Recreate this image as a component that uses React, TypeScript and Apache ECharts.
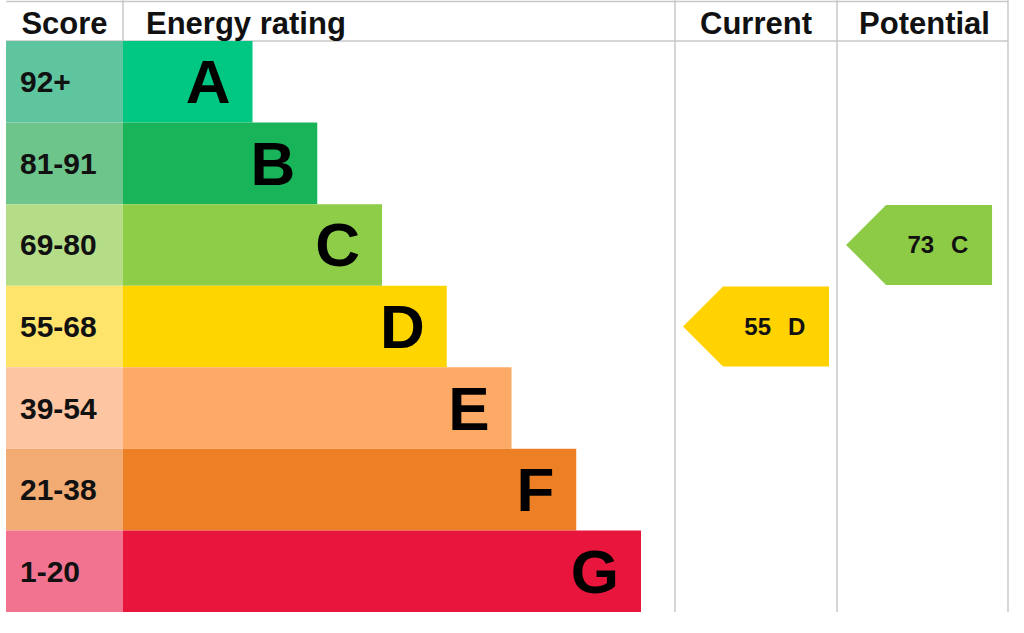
import { useEffect, useRef } from 'react';
import * as echarts from 'echarts';

// EPC bands, top (best) to bottom (worst).
const bands = ['A', 'B', 'C', 'D', 'E', 'F', 'G'];
const scoreRanges = ['92+', '81-91', '69-80', '55-68', '39-54', '21-38', '1-20'];
// Bar length of each band, in steps of the rating column.
const bandLengths = [2, 3, 4, 5, 6, 7, 8];
// Score column cells are all full width.
const scoreCells = [1, 1, 1, 1, 1, 1, 1];
const headers = ['Score', 'Energy rating', 'Current', 'Potential'];

const currentBand = 'D';
const currentScore = 55;
const potentialBand = 'C';
const potentialScore = 73;

const bandColors = ['#00c781', '#19b35a', '#8dcd47', '#ffd500', '#fcaa65', '#ed8025', '#e8163d'];
const scoreColors = ['#5fc59f', '#6dc58b', '#b5dd88', '#ffe46c', '#fdc5a1', '#f3ab74', '#f27390'];

const FONT = '"Liberation Sans", Arial, Helvetica, sans-serif';
const LINE = '#c8c8c8';

// Table layout (px).
const TOP = 41;
const BOTTOM = 612;
const X_SCORE = 6;
const X_BARS = 123;
const X_CURRENT = 675;
const X_POTENTIAL = 837;
const X_RIGHT = 1008;
const BAR_SPAN = 518;

const arrowItem = (color: string) => (params: any, api: any) => {
  const [cx, cy] = api.coord([api.value(0), api.value(1)]);
  const h = api.size([0, 1])[1] - 1.5;
  const w = 146;
  const tip = 40;
  const left = cx - w / 2;
  const right = cx + w / 2;
  const mid = (left + tip + right) / 2;
  const font = `bold 24px ${FONT}`;
  return {
    type: 'group',
    children: [
      {
        type: 'polygon',
        shape: {
          points: [
            [left, cy],
            [left + tip, cy - h / 2],
            [right, cy - h / 2],
            [right, cy + h / 2],
            [left + tip, cy + h / 2],
          ],
        },
        style: { fill: color },
      },
      {
        type: 'text',
        x: mid - 5,
        y: cy,
        style: { text: String(api.value(2)), font, fill: '#111', align: 'right', verticalAlign: 'middle' },
      },
      {
        type: 'text',
        x: mid + 12,
        y: cy,
        style: { text: bands[api.value(1)], font, fill: '#111', align: 'left', verticalAlign: 'middle' },
      },
    ],
  };
};

export default function App() {
  const ref = useRef<HTMLDivElement | null>(null);

  useEffect(() => {
    if (!ref.current) return;
    const chart = echarts.init(ref.current, undefined, { renderer: 'svg' });

    const vline = (x: number, y2: number) => ({
      type: 'line',
      shape: { x1: x, y1: 0, x2: x, y2 },
      style: { stroke: LINE, lineWidth: 1.5 },
    });
    const hline = (y: number) => ({
      type: 'line',
      shape: { x1: X_SCORE, y1: y, x2: X_RIGHT, y2: y },
      style: { stroke: LINE, lineWidth: 1.5 },
    });
    const headerX = [
      (X_SCORE + X_BARS) / 2,
      X_BARS + 23,
      (X_CURRENT + X_POTENTIAL) / 2,
      (X_POTENTIAL + X_RIGHT) / 2 + 2,
    ];
    const headerText = headers.map((t, i) => ({
      type: 'text',
      x: headerX[i],
      y: 23,
      style: {
        text: t,
        font: `bold 31px ${FONT}`,
        fill: '#111',
        align: i === 1 ? 'left' : 'center',
        verticalAlign: 'middle',
        textAlign: i === 1 ? 'left' : 'center',
        textVerticalAlign: 'middle',
      },
    }));

    chart.setOption({
      animation: false,
      backgroundColor: '#fff',
      grid: [
        { left: X_SCORE, top: TOP, width: X_BARS - X_SCORE, height: BOTTOM - TOP },
        { left: X_BARS, top: TOP, width: BAR_SPAN, height: BOTTOM - TOP },
        { left: X_CURRENT, top: TOP, width: X_POTENTIAL - X_CURRENT, height: BOTTOM - TOP },
        { left: X_POTENTIAL, top: TOP, width: X_RIGHT - X_POTENTIAL, height: BOTTOM - TOP },
      ],
      xAxis: [0, 1, 2, 3].map((i) => ({
        gridIndex: i,
        type: 'value',
        min: 0,
        max: i === 1 ? 8 : 1,
        show: false,
      })),
      yAxis: [0, 1, 2, 3].map((i) => ({
        gridIndex: i,
        type: 'category',
        data: bands,
        inverse: true,
        show: false,
      })),
      graphic: {
        elements: [
          hline(1.5),
          hline(TOP),
          vline(X_BARS, TOP),
          vline(X_CURRENT, BOTTOM),
          vline(X_POTENTIAL, BOTTOM),
          vline(X_RIGHT, BOTTOM),
          ...headerText,
        ],
      },
      series: [
        {
          type: 'bar',
          xAxisIndex: 0,
          yAxisIndex: 0,
          barWidth: '100%',
          silent: true,
          data: scoreCells.map((v, i) => ({ value: v, itemStyle: { color: scoreColors[i] } })),
          label: {
            show: true,
            position: 'insideLeft',
            distance: 14,
            formatter: (p: any) => scoreRanges[p.dataIndex],
            fontFamily: FONT,
            fontSize: 30,
            fontWeight: 'bold',
            color: '#111',
          },
        },
        {
          type: 'bar',
          xAxisIndex: 1,
          yAxisIndex: 1,
          barWidth: '100%',
          silent: true,
          data: bandLengths.map((v, i) => ({ value: v, itemStyle: { color: bandColors[i] } })),
          label: {
            show: true,
            position: 'insideRight',
            distance: 22,
            formatter: (p: any) => bands[p.dataIndex],
            fontFamily: FONT,
            fontSize: 62,
            fontWeight: 'bold',
            color: '#000',
          },
        },
        {
          type: 'custom',
          xAxisIndex: 2,
          yAxisIndex: 2,
          silent: true,
          data: [[0.5, currentBand, currentScore]],
          renderItem: arrowItem('#ffd200'),
        },
        {
          type: 'custom',
          xAxisIndex: 3,
          yAxisIndex: 3,
          silent: true,
          data: [[0.48, potentialBand, potentialScore]],
          renderItem: arrowItem('#8dcb46'),
        },
      ],
    });

    return () => chart.dispose();
  }, []);

  return (
    <div
      ref={ref}
      style={{ position: 'fixed', left: 0, top: 0, width: 1024, height: 633, background: '#fff' }}
    />
  );
}
